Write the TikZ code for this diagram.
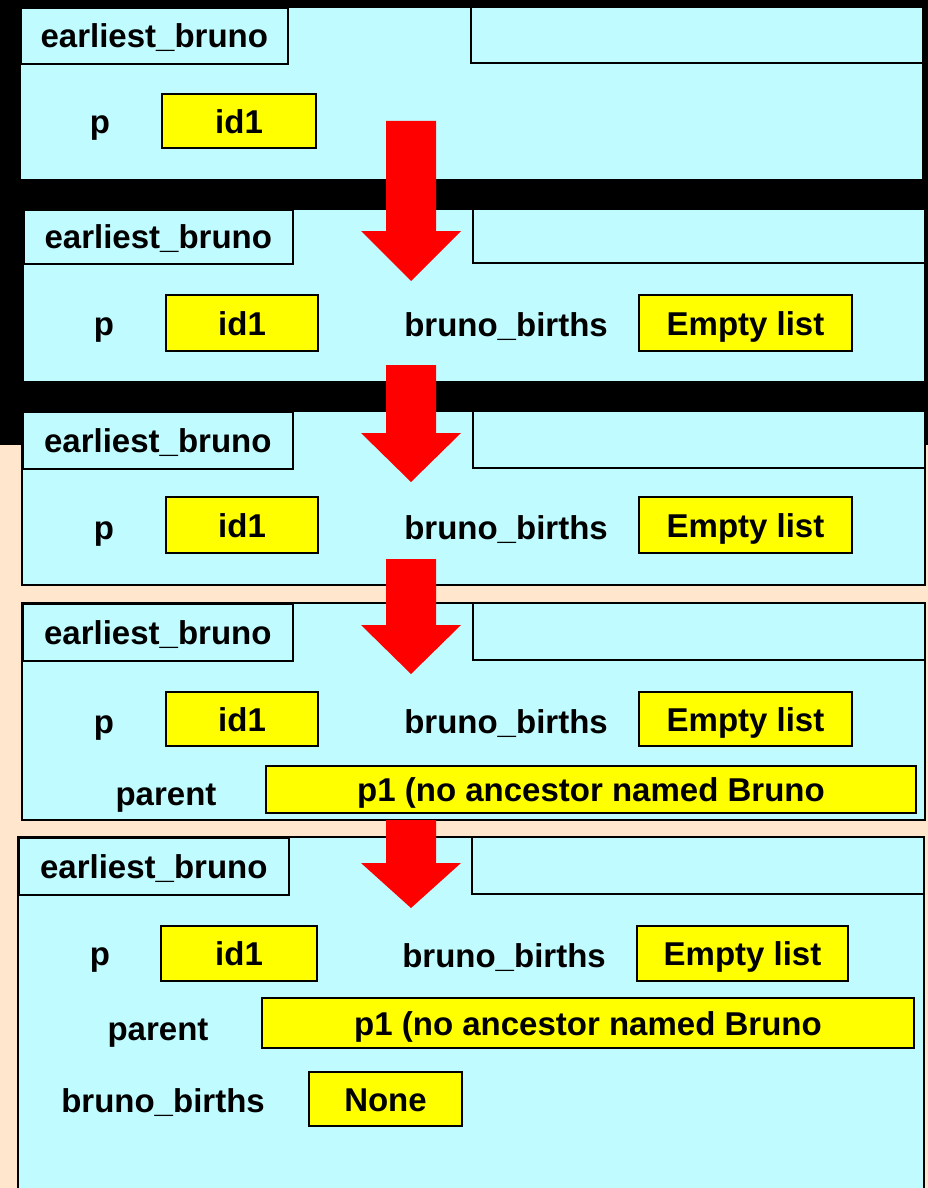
\documentclass[tikz,border=0pt]{standalone}
\usepackage{fontspec}
\setmainfont{Liberation Sans}
\definecolor{framecyan}{RGB}{192,252,255}
\definecolor{peach}{RGB}{255,230,204}
\definecolor{valyellow}{RGB}{255,255,0}
\definecolor{arrowred}{RGB}{255,0,0}
\tikzset{
  lbl/.style={anchor=base, inner sep=0pt, font=\fontsize{33}{36}\selectfont\bfseries},
  framebox/.style={draw=black, line width=1.6pt, fill=framecyan},
  tabbox/.style={framebox, anchor=north west, inner sep=0pt,
    text height=24pt, text depth=0pt, font=\fontsize{33}{36}\selectfont\bfseries},
  valbox/.style={draw=black, line width=2pt, fill=valyellow, inner sep=0pt,
    text height=24pt, text depth=0pt, font=\fontsize{33}{36}\selectfont\bfseries},
  flow/.style={fill=arrowred, draw=none}
}
% block arrow pointing down: shaft top, head top, tip
\newcommand{\downflow}[3]{%
  \fill[flow] (386,#1) -- (436,#1) -- (436,#2) -- (461,#2) -- (411,#3)
    -- (361,#2) -- (386,#2) -- cycle;}
% one frame: left, top, right, bottom, tab right, tab bottom, header left, name
\newcommand{\stackframe}[8]{%
  \draw[framebox] (#1,#2) rectangle (#3,#4);
  \node[tabbox, minimum width={(#5-#1)*1pt}, minimum height={(#6-#2)*1pt}]
    (#8tab) at (#1,#2) {earliest\_bruno};
  \draw[framebox] (#7,#2) rectangle (#3,#6);}
\begin{document}
\begin{tikzpicture}[x=1pt,y=-1pt]
\useasboundingbox (0,0) rectangle (928,1188);
\clip (0,0) rectangle (928,1188);
% backdrop
\fill[peach] (0,0) rectangle (928,1188);
\fill[black] (0,0) rectangle (928,445);

% frame 1
\stackframe{20}{7}{923}{180}{287}{63}{471}{fa}
\node[lbl] (fap) at (100,133) {p};
\node[valbox, minimum width=154pt, minimum height=54pt] (faid) at (239,121) {id1};

% frame 2
\stackframe{23}{209}{925}{382}{292}{263}{473}{fb}
\node[lbl] (fbp) at (104,335) {p};
\node[valbox, minimum width=152pt, minimum height=56pt] (fbid) at (242,323) {id1};
\node[lbl] (fbbb) at (506,336) {bruno\_births};
\node[valbox, minimum width=213pt, minimum height=56pt] (fbel) at (745.5,323) {Empty list};

% frame 3
\stackframe{22}{411}{925}{585}{292}{468}{473}{fc}
\node[lbl] (fcp) at (104,539) {p};
\node[valbox, minimum width=152pt, minimum height=56pt] (fcid) at (242,525) {id1};
\node[lbl] (fcbb) at (506,539) {bruno\_births};
\node[valbox, minimum width=213pt, minimum height=56pt] (fcel) at (745.5,525) {Empty list};

% frame 4
\stackframe{22}{603}{925}{820}{292}{660}{473}{fd}
\node[lbl] (fdp) at (104,733) {p};
\node[valbox, minimum width=152pt, minimum height=54pt] (fdid) at (242,719) {id1};
\node[lbl] (fdbb) at (506,733) {bruno\_births};
\node[valbox, minimum width=213pt, minimum height=54pt] (fdel) at (745.5,719) {Empty list};
\node[lbl] (fdpar) at (166,805) {parent};
\node[valbox, minimum width=650pt, minimum height=47pt] (fdp1) at (591,789.5) {p1 (no ancestor named Bruno};

% frame 5
\stackframe{18}{837}{924}{1200}{288}{894}{472}{fe}
\node[lbl] (fep) at (100,965) {p};
\node[valbox, minimum width=156pt, minimum height=55pt] (feid) at (239,953.5) {id1};
\node[lbl] (febb) at (504,967) {bruno\_births};
\node[valbox, minimum width=211pt, minimum height=55pt] (feel) at (742.5,953.5) {Empty list};
\node[lbl] (fepar) at (158,1040) {parent};
\node[valbox, minimum width=652pt, minimum height=50pt] (fep1) at (588,1023) {p1 (no ancestor named Bruno};
\node[lbl] (febb2) at (163,1112) {bruno\_births};
\node[valbox, minimum width=153pt, minimum height=54pt] (fenone) at (385.5,1099) {None};

% step arrows
\downflow{121}{231}{281}
\downflow{365}{433}{482}
\downflow{559}{625}{674}
\downflow{820}{863}{908}
\end{tikzpicture}
\end{document}
